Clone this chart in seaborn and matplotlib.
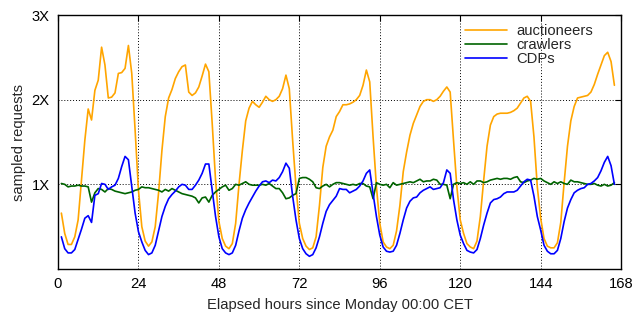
import numpy as np
import pandas as pd
import matplotlib
matplotlib.use("Agg")
import matplotlib.pyplot as plt
import seaborn as sns

# hourly samples, relative to the weekly mean (1X)
hours = list(range(1, 167))

auctioneers = [
    0.66, 0.42, 0.29, 0.29, 0.38, 0.58, 1.05, 1.52, 1.89, 1.76, 2.11, 2.23,
    2.62, 2.41, 2.02, 2.03, 2.08, 2.31, 2.32, 2.37, 2.64, 2.31, 1.64, 0.93,
    0.50, 0.33, 0.27, 0.32, 0.50, 0.90, 1.40, 1.80, 2.02, 2.12, 2.25, 2.33,
    2.39, 2.41, 2.09, 2.05, 2.08, 2.15, 2.28, 2.42, 2.33, 1.72, 1.05, 0.56,
    0.36, 0.27, 0.24, 0.30, 0.54, 1.00, 1.40, 1.75, 1.90, 1.98, 1.94, 1.91,
    1.97, 2.04, 2.00, 1.98, 2.00, 2.04, 2.13, 2.29, 2.13, 1.52, 0.97, 0.54,
    0.36, 0.27, 0.23, 0.25, 0.38, 0.75, 1.20, 1.45, 1.56, 1.64, 1.80, 1.86,
    1.94, 1.94, 1.95, 1.97, 2.00, 2.05, 2.17, 2.35, 2.21, 1.56, 0.97, 0.54,
    0.32, 0.26, 0.24, 0.28, 0.45, 0.75, 1.15, 1.38, 1.58, 1.72, 1.82, 1.92,
    1.98, 2.00, 2.00, 1.98, 2.00, 2.04, 2.10, 2.15, 2.09, 1.52, 0.97, 0.58,
    0.42, 0.30, 0.26, 0.24, 0.33, 0.62, 1.05, 1.45, 1.70, 1.80, 1.83, 1.84,
    1.84, 1.84, 1.85, 1.87, 1.90, 1.96, 2.02, 2.04, 1.98, 1.56, 0.97, 0.60,
    0.36, 0.27, 0.25, 0.25, 0.31, 0.55, 1.02, 1.45, 1.75, 1.92, 2.02, 2.03,
    2.04, 2.05, 2.09, 2.18, 2.30, 2.41, 2.52, 2.56, 2.45, 2.17,
]

crawlers = [
    1.01, 1.00, 0.97, 0.98, 0.98, 0.99, 0.98, 0.98, 0.97, 0.79, 0.90, 0.95,
    0.94, 0.91, 0.95, 0.94, 0.92, 0.91, 0.90, 0.89, 0.90, 0.91, 0.93, 0.94,
    0.97, 0.96, 0.96, 0.95, 0.94, 0.93, 0.91, 0.94, 0.92, 0.95, 0.93, 0.91,
    0.89, 0.88, 0.87, 0.86, 0.84, 0.78, 0.84, 0.85, 0.79, 0.87, 0.91, 0.94,
    0.97, 0.99, 0.93, 0.95, 1.00, 0.99, 1.01, 1.03, 1.00, 0.99, 0.99, 0.99,
    1.00, 0.99, 1.01, 0.98, 0.95, 0.95, 0.90, 0.83, 0.84, 0.87, 0.89, 1.07,
    1.08, 1.08, 1.06, 1.03, 0.96, 0.95, 0.98, 1.00, 0.97, 1.00, 1.02, 1.02,
    1.01, 1.00, 0.99, 1.00, 0.99, 1.01, 1.01, 0.98, 0.97, 0.83, 1.02, 1.00,
    0.99, 1.00, 0.96, 1.02, 0.99, 1.00, 1.01, 1.02, 1.03, 1.02, 1.04, 1.06,
    1.03, 1.04, 1.04, 1.06, 1.05, 1.00, 1.00, 0.99, 0.83, 1.00, 1.02, 1.01,
    1.02, 1.00, 1.03, 1.00, 1.04, 1.04, 1.02, 1.03, 1.05, 1.06, 1.07, 1.06,
    1.07, 1.07, 1.06, 1.08, 1.09, 1.03, 1.02, 1.04, 1.05, 1.07, 1.06, 1.07,
    1.04, 1.02, 1.00, 1.03, 1.01, 1.03, 1.01, 1.00, 1.05, 1.03, 1.03, 1.02,
    1.01, 1.00, 1.00, 1.01, 0.99, 0.98, 1.00, 0.98, 0.99, 1.02,
]

cdps = [
    0.38, 0.24, 0.19, 0.19, 0.23, 0.35, 0.47, 0.60, 0.63, 0.55, 0.87, 0.89,
    1.01, 1.00, 0.94, 0.97, 0.99, 1.07, 1.21, 1.33, 1.29, 0.97, 0.66, 0.44,
    0.32, 0.22, 0.17, 0.19, 0.28, 0.45, 0.62, 0.74, 0.83, 0.88, 0.92, 0.97,
    1.00, 0.99, 0.94, 0.94, 0.99, 1.05, 1.13, 1.24, 1.24, 0.93, 0.62, 0.38,
    0.24, 0.19, 0.17, 0.19, 0.28, 0.45, 0.60, 0.70, 0.78, 0.85, 0.92, 0.98,
    1.03, 1.04, 1.02, 1.05, 1.04, 1.08, 1.15, 1.25, 1.19, 0.86, 0.58, 0.36,
    0.24, 0.18, 0.15, 0.17, 0.25, 0.38, 0.54, 0.68, 0.76, 0.81, 0.86, 0.95,
    0.94, 0.94, 0.90, 0.92, 0.94, 0.98, 1.04, 1.13, 1.17, 0.89, 0.62, 0.40,
    0.26, 0.21, 0.20, 0.21, 0.28, 0.42, 0.58, 0.72, 0.80, 0.84, 0.85, 0.90,
    0.93, 0.95, 0.97, 0.94, 0.95, 0.96, 1.02, 1.17, 1.13, 0.82, 0.58, 0.40,
    0.30, 0.22, 0.20, 0.19, 0.23, 0.36, 0.52, 0.66, 0.78, 0.82, 0.83, 0.85,
    0.89, 0.91, 0.91, 0.91, 0.93, 0.98, 1.03, 1.06, 1.05, 0.86, 0.62, 0.46,
    0.28, 0.21, 0.18, 0.18, 0.22, 0.36, 0.56, 0.72, 0.82, 0.90, 0.93, 0.95,
    0.96, 1.00, 1.01, 1.04, 1.08, 1.16, 1.26, 1.33, 1.22, 1.00,
]

xticks = [0, 24, 48, 72, 96, 120, 144, 168]
yticks = [1, 2, 3]
ytick_labels = ["1X", "2X", "3X"]

# long format for seaborn
df = pd.DataFrame({
    "hour": hours * 3,
    "value": auctioneers + crawlers + cdps,
    "who": ["auctioneers"] * len(hours) + ["crawlers"] * len(hours) + ["CDPs"] * len(hours),
})

sns.set_style("white")
plt.rcParams["font.family"] = ["Liberation Sans", "DejaVu Sans"]
fs = 10.6

fig = plt.figure(figsize=(6.39, 3.14), dpi=100)
ax = fig.add_axes([0.0908, 0.1433, 0.8812, 0.8089])

palette = {"auctioneers": "#FFA500", "crawlers": "#006400", "CDPs": "#0000FF"}
sns.lineplot(data=df, x="hour", y="value", hue="who", palette=palette,
             hue_order=["auctioneers", "crawlers", "CDPs"], linewidth=1.2, ax=ax)

# gnuplot-ish frame: inner ticks on all sides, dotted grid
ax.set_xlim(0, 168)
ax.set_ylim(0, 3)
ax.set_xticks(xticks)
ax.set_yticks(yticks)
ax.set_yticklabels(ytick_labels)
ax.tick_params(direction="in", length=4, width=0.8, top=True, right=True,
               labelsize=fs, colors="black", pad=6)
ax.grid(True, linestyle=(0, (1, 2)), color="black", linewidth=0.7)
for s in ax.spines.values():
    s.set_color("black")
    s.set_linewidth(1.0)

ax.set_xlabel("Elapsed hours since Monday 00:00 CET", fontsize=fs, labelpad=5)
ax.set_ylabel("sampled requests", fontsize=fs)

ax.legend(loc="upper left", bbox_to_anchor=(0.700, 1.015), frameon=False,
          handlelength=2.85, handletextpad=0.6, labelspacing=0.0, fontsize=fs)

fig.savefig("out.png", dpi=100)
